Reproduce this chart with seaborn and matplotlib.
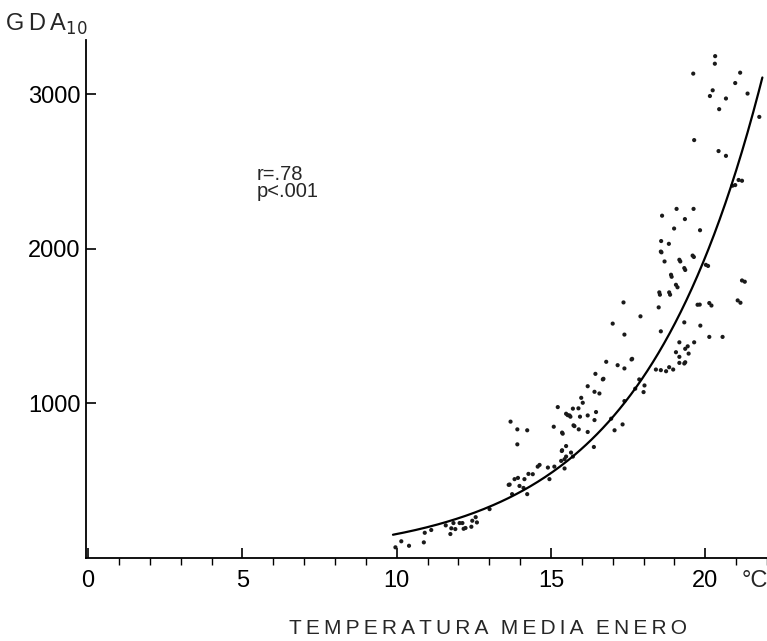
import numpy as np
import pandas as pd
import matplotlib
matplotlib.use("Agg")
import matplotlib.pyplot as plt
from matplotlib.ticker import MultipleLocator
import seaborn as sns

# scatter points (temperature, GDA10)
temp = [9.96, 10.15, 10.40, 10.88, 10.91, 11.12, 11.59, 11.74, 11.77, 11.84,
        11.90, 12.04, 12.13, 12.17, 12.23, 12.42, 12.45, 12.56, 12.60, 13.01,
        13.63, 13.69, 13.91, 14.23, 13.91, 13.66, 13.82, 13.93, 13.98, 14.14,
        14.27, 14.41, 14.11, 14.23, 13.74, 14.57, 14.63, 14.95, 14.90, 15.11,
        15.33, 15.44, 15.44, 15.49, 15.22, 15.36, 15.49, 15.60, 15.71, 15.76,
        15.36, 15.49, 15.65, 16.19, 16.41, 16.57, 15.98, 16.03, 15.89, 15.54,
        15.63, 15.94, 16.19, 16.46, 16.41, 15.73, 15.90, 16.19, 15.09, 15.38,
        16.95, 17.32, 17.06, 16.39, 15.35, 15.71, 17.35, 18.49, 17.90, 17.00,
        17.38, 18.56, 19.75, 19.32, 19.16, 19.43, 19.64, 19.05, 19.35, 19.46,
        19.16, 19.35, 19.32, 19.16, 18.96, 18.83, 18.73, 18.56, 18.40, 16.79,
        17.16, 17.38, 17.61, 16.68, 18.03, 18.00, 17.73, 17.86, 17.38, 18.56,
        19.16, 19.59, 19.32, 20.02, 18.89, 19.05, 18.51, 18.83, 20.13, 21.19,
        21.05, 19.84, 20.13, 20.56, 17.63, 16.44, 16.70, 18.60, 19.07, 19.62,
        19.34, 18.99, 19.83, 18.57, 18.82, 18.58, 18.68, 19.19, 19.63, 20.09,
        19.35, 18.91, 19.10, 18.53, 18.86, 21.28, 21.14, 19.82, 20.20, 20.97,
        21.19, 20.32, 20.31, 19.61, 21.13, 20.97, 20.24, 20.15, 20.67, 21.37,
        20.45, 21.75, 19.64, 20.43, 20.67, 21.08, 20.88]
gda = [69, 108, 79, 101, 163, 181, 211, 155, 192, 226,
       187, 226, 226, 189, 194, 202, 241, 264, 230, 316,
       473, 882, 832, 826, 735, 475, 510, 518, 466, 510,
       544, 542, 453, 413, 413, 591, 602, 510, 585, 591,
       628, 639, 579, 656, 976, 811, 933, 922, 966, 853,
       697, 724, 682, 1111, 1075, 1064, 1036, 1004, 968, 924,
       914, 914, 922, 944, 892, 858, 832, 815, 849, 804,
       901, 864, 826, 718, 692, 656, 1653, 1621, 1563, 1516,
       1445, 1466, 1638, 1524, 1395, 1369, 1395, 1331, 1353, 1322,
       1301, 1266, 1258, 1262, 1219, 1234, 1208, 1215, 1219, 1269,
       1247, 1226, 1284, 1155, 1116, 1073, 1095, 1155, 1015, 1982,
       1929, 1956, 1875, 1896, 1832, 1767, 1718, 1718, 1649, 1795,
       1666, 1503, 1430, 1430, 1288, 1191, 1159, 2214, 2258, 2258,
       2192, 2131, 2120, 2050, 2032, 1977, 1918, 1918, 1947, 1889,
       1863, 1819, 1751, 1703, 1703, 1787, 1651, 1639, 1633, 2412,
       2440, 3246, 3197, 3133, 3139, 3072, 3025, 2988, 2972, 3004,
       2903, 2853, 2703, 2632, 2601, 2445, 2408]

# exponential fit y = a * exp(b * x)
fit_a = 12.35
fit_b = 0.253
fit_range = (9.88, 21.85)

x_major = [0, 5, 10, 15, 20]
y_major = [1000, 2000, 3000]

df = pd.DataFrame({"temp": temp, "gda": gda})
xs = np.linspace(fit_range[0], fit_range[1], 200)
fit = pd.DataFrame({"temp": xs, "gda": fit_a * np.exp(fit_b * xs)})

sns.set_style("white")
plt.rcParams["font.family"] = ["Liberation Sans", "DejaVu Sans"]

fig = plt.figure(figsize=(7.67, 6.41), dpi=100)
ax = fig.add_axes([0.112, 0.1295, 0.888, 0.808])

sns.scatterplot(data=df, x="temp", y="gda", ax=ax, s=9, color="#1a1a1a",
                edgecolor="none", legend=False)
sns.lineplot(data=fit, x="temp", y="gda", ax=ax, color="black", lw=1.6)

ax.set_xlim(-0.07, 22.0)
ax.set_ylim(0, 3350)
sns.despine(ax=ax)
for s in ["left", "bottom"]:
    ax.spines[s].set_color("black")
    ax.spines[s].set_linewidth(1.3)

ax.set_xticks(x_major)
ax.set_xticklabels([str(v) for v in x_major], fontsize=17)
ax.xaxis.set_minor_locator(MultipleLocator(1))
ax.set_yticks(y_major)
ax.set_yticklabels([str(v) for v in y_major], fontsize=17)
ax.tick_params(axis="x", which="major", direction="in", length=7, width=1.2,
               pad=9, colors="black", bottom=True)
ax.tick_params(axis="x", which="minor", direction="out", length=5, width=1.0,
               bottom=True, colors="black")
ax.tick_params(axis="y", which="major", direction="in", length=7, width=1.2,
               pad=4, colors="black", left=True)
ax.set_xlabel("")
ax.set_ylabel("")

ax.annotate("°C", xy=(21.6, 0), xycoords=("data", "axes fraction"),
            xytext=(0, -9), textcoords="offset points",
            fontsize=17, ha="center", va="top")
fig.text(0.006, 0.962, "G\u2009D\u2009A$_{10}$", fontsize=17, ha="left", va="center")
fig.text(0.636, 0.02, "T E M P E R A T U R A   M E D I A   E N E R O".replace(" ", "\u2009"),
         fontsize=15, ha="center", va="center")
ax.text(5.45, 2540, "r=.78\np<.001", fontsize=14.5, ha="left", va="top",
        linespacing=0.85)

fig.savefig("out.png", dpi=100)
